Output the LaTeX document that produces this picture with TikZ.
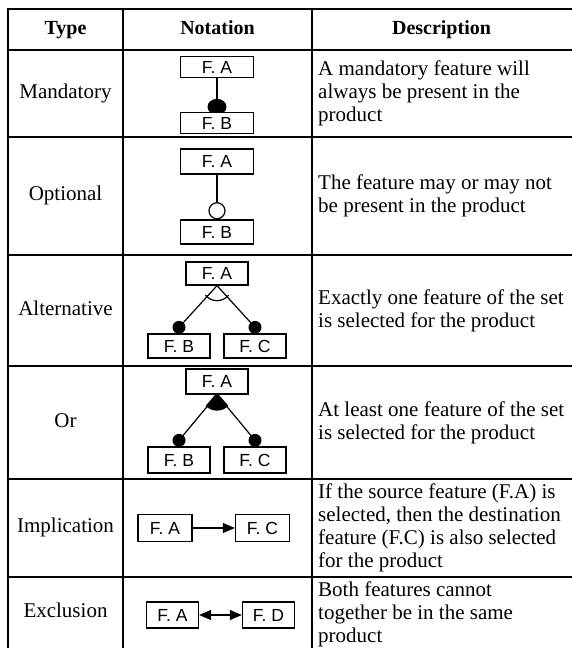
\documentclass[tikz,border=0pt]{standalone}
\usepackage{fontspec}
\setmainfont{Liberation Serif}
\newfontfamily\featfont{Liberation Sans}
\usetikzlibrary{arrows.meta,backgrounds,calc}
\begin{document}
\begin{tikzpicture}[x=1pt,y=-1pt,
  rule/.style={line width=2.6pt, line cap=rect},
  feat/.style={draw, fill=white, line width=1.3pt, inner sep=0pt,
    font=\featfont\fontsize{17.5}{17.5}\selectfont, text depth=0pt},
  link/.style={line width=1.2pt},
  hdr/.style={font=\bfseries\fontsize{20}{22}\selectfont, text height=14pt, text depth=5pt},
  lbl/.style={font=\fontsize{21}{23}\selectfont, text height=14pt, text depth=5pt},
  desc/.style={font=\fontsize{21}{23}\selectfont, anchor=west, align=left, inner sep=0pt},
  tip/.style={-{Triangle[length=12pt,width=10pt]}},
  bitip/.style={{Triangle[length=12pt,width=10pt]}-{Triangle[length=12pt,width=10pt]}}
]
\useasboundingbox (0,0) rectangle (571,648);

% table rules
\draw[rule] (8,9) -- (571,9);
\draw[rule] (8,50) -- (571,50);
\draw[rule] (8,137) -- (571,137);
\draw[rule] (8,255) -- (571,255);
\draw[rule] (8,366) -- (571,366);
\draw[rule] (8,479) -- (571,479);
\draw[rule] (8,577) -- (571,577);
\draw[rule] (8,9) -- (8,648);
\draw[rule] (123,9) -- (123,648);
\draw[rule] (312,9) -- (312,648);

% header
\node[hdr] (hType) at (65.5,30) {Type};
\node[hdr] (hNot) at (217.5,30) {Notation};
\node[hdr] (hDesc) at (441.5,30) {Description};

% type labels
\node[lbl] (tMan) at (65.5,93.5) {Mandatory};
\node[lbl] (tOpt) at (65.5,196) {Optional};
\node[lbl] (tAlt) at (65.5,310.5) {Alternative};
\node[lbl] (tOr) at (65.5,422.5) {Or};
\node[lbl] (tImp) at (65.5,528) {Implication};
\node[lbl] (tExc) at (65.5,612.5) {Exclusion};

% descriptions
\node[desc] (dMan) at (318,93.5) {A mandatory feature will\\always be present in the\\product};
\node[desc] (dOpt) at (318,196) {The feature may or may not\\be present in the product};
\node[desc] (dAlt) at (318,310.5) {Exactly one feature of the set\\is selected for the product};
\node[desc] (dOr) at (318,422.5) {At least one feature of the set\\is selected for the product};
\node[desc] (dImp) at (318,528) {If the source feature (F.A) is\\selected, then the destination\\feature (F.C) is also selected\\for the product};
\node[desc] (dExc) at (318,614) {Both features cannot\\together be in the same\\product};

% mandatory
\node[feat, minimum width=73pt, minimum height=21pt] (mA) at (217,67) {F. A};
\node[feat, minimum width=73pt, minimum height=21pt] (mB) at (217,123) {F. B};
\begin{scope}[on background layer]
  \draw[link] (mA.south) -- (mB.north);
  \fill ($(mB.north)+(0,-5)$) ellipse[x radius=9.5, y radius=8];
\end{scope}

% optional
\node[feat, minimum width=73pt, minimum height=25pt] (oA) at (217,161.5) {F. A};
\node[feat, minimum width=73pt, minimum height=24pt] (oB) at (217,232) {F. B};
\node[draw, fill=white, circle, line width=1.2pt, minimum size=16pt, inner sep=0pt,
  anchor=south] (oC) at (oB.north) {};
\draw[link] (oA.south) -- (oC.north);

% alternative
\node[feat, minimum width=62pt, minimum height=23pt] (aA) at (217,273.5) {F. A};
\node[feat, minimum width=62pt, minimum height=24pt] (aB) at (179,346) {F. B};
\node[feat, minimum width=62pt, minimum height=24pt] (aC) at (255,346) {F. C};
\coordinate (aBd) at ($(aB.north)+(0,-6)$);
\coordinate (aCd) at ($(aC.north)+(0,-6)$);
\begin{scope}[on background layer]
  \draw[link] (aA.south) -- (aBd);
  \draw[link] (aA.south) -- (aCd);
  \fill (aBd) circle[radius=6.5];
  \fill (aCd) circle[radius=6.5];
  \begin{scope}
    \clip ($(aA.south)+(0,-2)$) -- ($(aBd)+(-6,0)$) -- ($(aCd)+(6,0)$) -- cycle;
    \draw[link] (aA.south) circle[radius=15];
  \end{scope}
\end{scope}

% or
\node[feat, minimum width=62pt, minimum height=25pt] (rA) at (217,381.5) {F. A};
\node[feat, minimum width=62pt, minimum height=26pt] (rB) at (179,460) {F. B};
\node[feat, minimum width=62pt, minimum height=26pt] (rC) at (255,460) {F. C};
\coordinate (rBd) at ($(rB.north)+(0,-6)$);
\coordinate (rCd) at ($(rC.north)+(0,-6)$);
\begin{scope}[on background layer]
  \draw[link] (rA.south) -- (rBd);
  \draw[link] (rA.south) -- (rCd);
  \fill (rBd) circle[radius=6.5];
  \fill (rCd) circle[radius=6.5];
  \begin{scope}
    \clip ($(rA.south)+(0,-2)$) -- ($(rBd)+(-3,0)$) -- ($(rCd)+(3,0)$) -- cycle;
    \fill (rA.south) circle[radius=16];
  \end{scope}
\end{scope}

% implication
\node[feat, minimum width=54pt, minimum height=27pt] (iA) at (165,528) {F. A};
\node[feat, minimum width=54pt, minimum height=27pt] (iC) at (262.5,528) {F. C};
\draw[link, tip] (iA.east) -- (iC.west);

% exclusion
\node[feat, minimum width=52pt, minimum height=26pt] (eA) at (172.5,615) {F. A};
\node[feat, minimum width=52pt, minimum height=26pt] (eD) at (268.5,615) {F. D};
\draw[link, bitip] (eA.east) -- (eD.west);
\end{tikzpicture}
\end{document}
